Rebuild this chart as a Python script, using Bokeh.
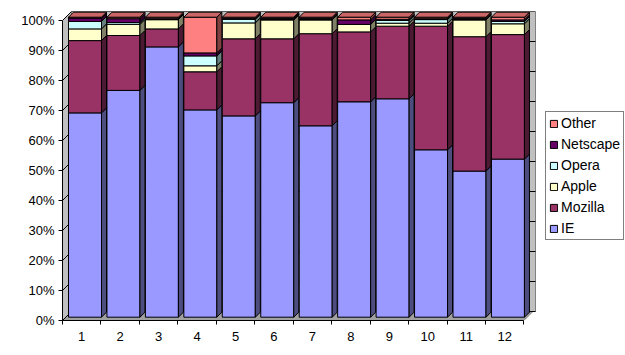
from bokeh.plotting import figure
from bokeh.models import Range1d, FixedTicker, Legend, LegendItem, ColumnDataSource
from bokeh.embed import file_html
from bokeh.resources import INLINE

categories = ["1", "2", "3", "4", "5", "6", "7", "8", "9", "10", "11", "12"]
series_names = ["IE", "Mozilla", "Apple", "Opera", "Netscape", "Other"]
ie       = [68.1, 75.6, 90.1, 69.1, 67.1, 71.5, 63.8, 71.8, 72.8, 55.8, 48.7, 52.7]
mozilla  = [24.1, 18.3, 6.0, 12.7, 25.7, 21.3, 30.7, 23.3, 24.2, 41.2, 44.8, 41.5]
apple    = [3.9, 3.7, 3.1, 2.0, 5.3, 6.3, 4.6, 2.5, 1.0, 1.0, 5.6, 3.6]
opera    = [2.5, 0.6, 0.0, 3.3, 1.2, 0.1, 0.1, 0.0, 0.9, 1.2, 0.1, 0.8]
netscape = [1.1, 1.3, 0.3, 1.0, 0.3, 0.4, 0.4, 1.5, 0.4, 0.3, 0.4, 0.5]
other    = [0.3, 0.5, 0.5, 11.9, 0.4, 0.4, 0.4, 0.9, 0.7, 0.5, 0.4, 0.9]
y_ticks = [0, 10, 20, 30, 40, 50, 60, 70, 80, 90, 100]
y_tick_labels = ["0%", "10%", "20%", "30%", "40%", "50%", "60%", "70%", "80%", "90%", "100%"]

colors = ["#9999ff", "#993366", "#ffffcc", "#ccffff", "#660066", "#ff8080"]
side_colors = ["#4d4d80", "#4d1a33", "#808066", "#668080", "#330033", "#804040"]
top_color = "#cc6666"

FONT = "Liberation Sans"
PX_X = 38.45          # pixels per category
PX_Y = 3.0            # pixels per percent
FRONT_DX = 6 / PX_X
BAR_W = 33 / PX_X
FRONT_DY = 3.3 / PX_Y
DEP_X = 5 / PX_X
DEP_Y = 5 / PX_Y
WALL_X = 9 / PX_X
WALL_Y = 9 / PX_Y
n = len(categories)
wall_end = 0.5 + 473 / PX_X
x_end = 0.5 + 563 / PX_X

p = figure(width=625, height=355, output_backend="svg", toolbar_location=None,
           x_range=Range1d(0.5, x_end), y_range=Range1d(0, 103),
           min_border_left=62, min_border_right=0, min_border_top=11, min_border_bottom=35)
p.xgrid.visible = False
p.ygrid.visible = False
p.outline_line_color = None
p.background_fill_color = "white"
p.border_fill_color = "white"

p.patch([0.5 + WALL_X, wall_end, wall_end, 0.5 + WALL_X], [WALL_Y, WALL_Y, 103, 103],
        fill_color="#c0c0c0", line_color="#808080", line_width=1)
p.patch([0.5, 0.5, 0.5 + WALL_X, 0.5 + WALL_X], [0, 100, 100 + WALL_Y, WALL_Y],
        fill_color="#c0c0c0", line_color="#808080", line_width=1)
p.patch([0.5, n + 0.5, n + 0.5 + WALL_X, 0.5 + WALL_X], [0, 0, WALL_Y, WALL_Y],
        fill_color="#a0a0a0", line_color="#808080", line_width=1)

p.segment(x0=[0.5 + WALL_X] * len(y_ticks), y0=[t + WALL_Y for t in y_ticks],
          x1=[wall_end] * len(y_ticks), y1=[t + WALL_Y for t in y_ticks], line_color="black")
p.segment(x0=[0.5] * len(y_ticks), y0=y_ticks,
          x1=[0.5 + WALL_X] * len(y_ticks), y1=[t + WALL_Y for t in y_ticks], line_color="black")

data = [ie, mozilla, apple, opera, netscape, other]
totals = [sum(d[i] for d in data) for i in range(n)]
norm = [[d[i] * 100.0 / totals[i] for i in range(n)] for d in data]

xs_idx = list(range(1, n + 1))
left = [i - 0.5 + FRONT_DX for i in xs_idx]
right = [l + BAR_W for l in left]
centers = [l + BAR_W / 2 for l in left]

renderers = []
bottoms = [0.0] * n
for k, vals in enumerate(norm):
    tops = [b + v for b, v in zip(bottoms, vals)]
    src = ColumnDataSource(dict(x=centers, bottom=[b + FRONT_DY for b in bottoms],
                                top=[t + FRONT_DY for t in tops]))
    r = p.vbar(x="x", width=BAR_W, bottom="bottom", top="top", source=src,
               fill_color=colors[k], line_color="black", line_width=1)
    renderers.append(r)
    sx, sy = [], []
    for i in range(n):
        b = bottoms[i] + FRONT_DY
        t = tops[i] + FRONT_DY
        sx.append([right[i], right[i] + DEP_X, right[i] + DEP_X, right[i]])
        sy.append([b, b + DEP_Y, t + DEP_Y, t])
    p.patches(sx, sy, fill_color=side_colors[k], line_color="black", line_width=1)
    bottoms = tops

tx, ty = [], []
for i in range(n):
    t = bottoms[i] + FRONT_DY
    tx.append([left[i], right[i], right[i] + DEP_X, left[i] + DEP_X])
    ty.append([t, t, t + DEP_Y, t + DEP_Y])
p.patches(tx, ty, fill_color=top_color, line_color="black", line_width=1)

xa = p.xaxis[0]
xa.ticker = FixedTicker(ticks=xs_idx, minor_ticks=[i - 0.5 for i in xs_idx] + [n + 0.5])
xa.major_label_overrides = {i: c for i, c in zip(xs_idx, categories)}
xa.major_tick_out = 0
xa.major_tick_in = 0
xa.minor_tick_out = 4
xa.minor_tick_in = 0
xa.minor_tick_line_color = "black"
xa.bounds = (0.5, n + 0.5)
xa.axis_line_color = "black"
xa.major_label_standoff = 7
xa.major_label_text_font = FONT
xa.major_label_text_font_size = "13px"
xa.major_label_text_color = "black"

ya = p.yaxis[0]
ya.ticker = FixedTicker(ticks=y_ticks, minor_ticks=[])
ya.major_label_overrides = {t: l for t, l in zip(y_ticks, y_tick_labels)}
ya.major_tick_out = 4
ya.major_tick_in = 0
ya.bounds = (0, 100)
ya.axis_line_color = "black"
ya.major_tick_line_color = "black"
ya.major_label_standoff = 4
ya.major_label_text_font = FONT
ya.major_label_text_font_size = "13px"
ya.major_label_text_color = "black"

items = [LegendItem(label=series_names[k], renderers=[renderers[k]]) for k in range(5, -1, -1)]
legend = Legend(items=items, location=(483, 80), orientation="vertical")
legend.glyph_width = 9
legend.glyph_height = 9
legend.label_standoff = 3
legend.spacing = 5
legend.padding = 3
legend.margin = 0
legend.border_line_color = "black"
legend.border_line_width = 1
legend.background_fill_color = "white"
legend.background_fill_alpha = 1
legend.label_text_font = FONT
legend.label_text_font_size = "14px"
legend.label_text_color = "black"
p.add_layout(legend, "center")

open("out.html", "w").write(file_html(p, INLINE))
